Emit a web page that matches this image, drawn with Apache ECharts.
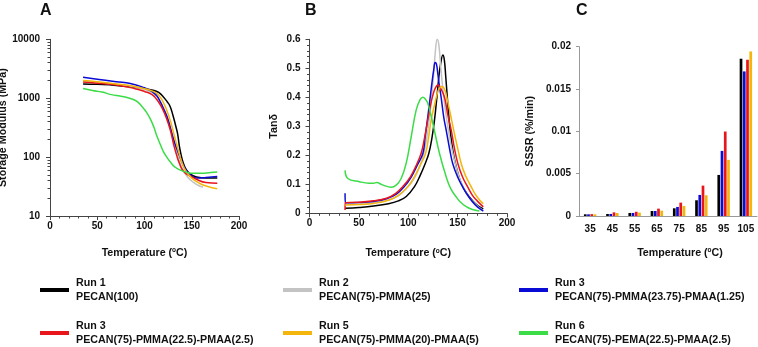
<!DOCTYPE html>
<html>
<head>
<meta charset="utf-8">
<script src="https://cdn.jsdelivr.net/npm/echarts@6/dist/echarts.min.js"></script>
<style>
html, body { margin: 0; padding: 0; background: #fff; }
#chart { width: 758px; height: 347px; }
</style>
</head>
<body>
<div id="chart"></div>
<script>
// run labels (legend) - two runs are both called "Run 3" in the source figure
const runNames = [
	'Run 1\nPECAN(100)',
	'Run 2\nPECAN(75)-PMMA(25)',
	'Run 3\nPECAN(75)-PMMA(23.75)-PMAA(1.25)',
	'Run 3\nPECAN(75)-PMMA(22.5)-PMAA(2.5)',
	'Run 5\nPECAN(75)-PMMA(20)-PMAA(5)',
	'Run 6\nPECAN(75)-PEMA(22.5)-PMAA(2.5)'
];

// A: storage modulus (MPa) vs temperature (C)
const modulusRun1 = [[35,1750],[50,1720],[70,1650],[90,1530],[100,1450],[110,1350],[115,1250],[120,1050],[124,870],[127,730],[130,520],[133,340],[135,250],[137,150],[139,105],[141,80],[144,62],[148,52],[155,46],[165,44],[177,44]];
const modulusRun2 = [[35,1950],[50,1850],[70,1720],[90,1550],[100,1400],[108,1250],[113,1080],[117,860],[121,620],[125,420],[128,290],[131,190],[134,125],[137,85],[141,60],[146,45],[152,37],[157,33],[162,31]];
const modulusRun3a = [[35,2260],[50,2100],[70,1900],[85,1780],[100,1500],[108,1300],[113,1100],[117,850],[121,620],[124,480],[127,330],[130,220],[134,141],[138,95],[142,68],[146,55],[150,48],[155,44],[165,45],[177,47]];
const modulusRun3b = [[35,1880],[50,1800],[70,1680],[90,1450],[100,1300],[108,1150],[113,950],[117,760],[121,560],[125,380],[128,260],[131,160],[134,108],[137,78],[141,58],[148,48],[155,42],[165,37],[177,36]];
const modulusRun5 = [[35,2000],[50,1900],[70,1750],[90,1580],[100,1450],[108,1330],[113,1200],[117,1020],[121,780],[125,540],[128,380],[131,250],[134,165],[137,110],[140,78],[144,57],[150,44],[158,36],[166,32],[177,29]];
const modulusRun6 = [[35,1460],[45,1350],[55,1270],[65,1150],[75,1080],[85,990],[92,880],[98,700],[102,580],[106,450],[110,320],[113,230],[117,160],[120,124],[124,98],[128,80],[132,68],[138,60],[145,55],[152,53],[160,53],[170,55],[177,56]];

// B: tan delta vs temperature (C)
const tanRun1 = [[36,0.017],[50,0.02],[65,0.025],[80,0.033],[90,0.043],[98,0.058],[106.3,0.092],[112,0.13],[117,0.17],[120.8,0.206],[124,0.26],[126.6,0.322],[129,0.4],[131,0.47],[133,0.52],[135,0.546],[136.5,0.53],[138,0.47],[140,0.38],[142,0.3],[145,0.22],[149,0.155],[154,0.1],[160,0.065],[166,0.04],[171,0.025],[176,0.015]];
const tanRun2 = [[36,0.03],[50,0.031],[65,0.036],[80,0.046],[90,0.06],[98,0.085],[106,0.12],[112,0.165],[116,0.21],[120,0.29],[123,0.38],[125.5,0.47],[127.5,0.56],[129.3,0.6],[131,0.58],[133,0.5],[135,0.43],[137,0.37],[140,0.3],[143,0.24],[147,0.18],[152,0.12],[158,0.075],[164,0.045],[170,0.025],[175,0.012]];
const tanRun3a = [[36,0.069],[36.3,0.036],[50,0.037],[65,0.041],[78,0.05],[88,0.066],[96,0.092],[103,0.125],[109,0.165],[114.8,0.206],[117,0.26],[119.4,0.322],[121.5,0.38],[124,0.45],[126,0.5],[127.2,0.52],[128.5,0.515],[130,0.48],[131.5,0.44],[133.3,0.4],[136,0.33],[138.4,0.287],[142,0.22],[145,0.172],[150,0.125],[155,0.092],[160,0.063],[165,0.04],[170,0.022],[176,0.008]];
const tanRun3b = [[36,0.011],[36.3,0.037],[50,0.038],[65,0.043],[78,0.052],[87,0.068],[94.5,0.092],[102,0.125],[108,0.165],[113,0.206],[116.5,0.26],[119.8,0.322],[123,0.38],[126,0.42],[128.5,0.438],[130.6,0.442],[133,0.43],[136.7,0.4],[140,0.34],[143.5,0.287],[147,0.22],[150.2,0.172],[155,0.125],[160,0.092],[165,0.062],[170,0.042],[176,0.022]];
const tanRun5 = [[36,0.029],[50,0.03],[65,0.034],[80,0.045],[90,0.062],[99.6,0.092],[106,0.125],[112,0.165],[117.5,0.206],[120.5,0.26],[123.2,0.322],[127,0.38],[130,0.42],[132,0.433],[134,0.437],[136.5,0.43],[139,0.4],[142.5,0.345],[146,0.287],[150,0.225],[153.6,0.172],[158,0.13],[163.7,0.092],[168,0.065],[172,0.047],[176,0.033]];
const tanRun6 = [[36,0.148],[38.8,0.12],[50.6,0.109],[60,0.104],[65,0.104],[68,0.106],[74,0.098],[82.7,0.09],[87.8,0.097],[92.8,0.12],[97.9,0.172],[103,0.264],[108,0.356],[112,0.392],[114.8,0.4],[117,0.395],[119.8,0.379],[124.9,0.31],[131.6,0.207],[138.4,0.126],[143,0.085],[148.5,0.057],[153,0.038],[158.7,0.023],[165,0.013],[172,0.008]];

// C: SSSR (%/min) per temperature step
const sssrTemps = ['35', '45', '55', '65', '75', '85', '95', '105'];
const sssrRun1 = [0.0002, 0.00024, 0.00036, 0.00059, 0.00091, 0.00186, 0.00485, 0.01858];
const sssrRun3a = [0.0002, 0.00024, 0.00036, 0.00059, 0.00107, 0.00249, 0.00769, 0.01708];
const sssrRun3b = [0.00022, 0.00043, 0.0005, 0.00087, 0.00158, 0.00359, 0.00998, 0.01846];
const sssrRun5 = [0.0002, 0.00035, 0.0004, 0.00063, 0.00118, 0.00245, 0.00663, 0.01944];

const runColors = ['#000000', '#c3c3c3', '#0b0bd6', '#e8161c', '#f4b60c', '#3cdc48'];
const modulusData = [modulusRun1, modulusRun2, modulusRun3a, modulusRun3b, modulusRun5, modulusRun6];
const tanData = [tanRun1, tanRun2, tanRun3a, tanRun3b, tanRun5, tanRun6];
const sssrData = [[0, sssrRun1], [2, sssrRun3a], [3, sssrRun3b], [4, sssrRun5]];

const FONT = '"Liberation Sans", Arial, sans-serif';
const labelStyle = { color: '#111', fontSize: 10, fontWeight: 'bold', fontFamily: FONT };
const titleStyle = { color: '#111', fontSize: 10.7, fontWeight: 'bold', fontFamily: FONT };
const tempName = 'Temperature ({sup|o}C)';
const tempNameStyle = {
	color: '#111', fontSize: 10.7, fontWeight: 'bold', fontFamily: FONT,
	rich: { sup: { fontSize: 6.5, fontWeight: 'bold', fontFamily: FONT, verticalAlign: 'top', padding: [0, 0, 5, 0] } }
};
const darkLine = { lineStyle: { color: '#444', width: 1 } };

let myChart = echarts.init(document.getElementById('chart'), null, { renderer: 'canvas' });

let series = [];
modulusData.forEach(function (d, i) {
	series.push({
		name: runNames[i], type: 'line', xAxisIndex: 0, yAxisIndex: 0,
		data: d, smooth: true, showSymbol: false, symbol: 'none',
		lineStyle: { color: runColors[i], width: 1.5 },
		itemStyle: { color: runColors[i] }
	});
});
tanData.forEach(function (d, i) {
	series.push({
		name: runNames[i], type: 'line', xAxisIndex: 1, yAxisIndex: 1,
		data: d, smooth: 0.4, showSymbol: false, symbol: 'none',
		lineStyle: { color: runColors[i], width: 1.5 },
		itemStyle: { color: runColors[i] }
	});
});
sssrData.forEach(function (d) {
	series.push({
		name: runNames[d[0]], type: 'bar', xAxisIndex: 2, yAxisIndex: 2,
		data: d[1], barWidth: 2.7, barGap: '20%',
		itemStyle: { color: runColors[d[0]] }
	});
});

function legendCol(left, names) {
	return {
		orient: 'vertical', left: left, top: 276, height: 90, padding: 0, itemGap: 15,
		itemWidth: 29, itemHeight: 4, icon: 'rect',
		data: names, selectedMode: false,
		textStyle: { color: '#111', fontSize: 10.7, fontWeight: 'bold', fontFamily: FONT, lineHeight: 14, padding: [0, 0, 0, 2] }
	};
}

let option = {
	animation: false,
	backgroundColor: '#fff',
	textStyle: { fontFamily: FONT },
	grid: [
		{ left: 50, top: 39.3, width: 189, height: 176.7, outerBoundsMode: 'none' },
		{ left: 309.5, top: 39.3, width: 197.5, height: 174, outerBoundsMode: 'none' },
		{ left: 579, top: 46.7, width: 178, height: 169.3, outerBoundsMode: 'none' }
	],
	legend: [
		legendCol(40, [runNames[0], runNames[3]]),
		legendCol(283, [runNames[1], runNames[4]]),
		legendCol(519, [runNames[2], runNames[5]])
	],
	graphic: [
		{ type: 'text', left: 40, top: 3, style: { text: 'A', fontSize: 16, fontWeight: 'bold', fontFamily: FONT, fill: '#111' } },
		{ type: 'text', left: 305, top: 3, style: { text: 'B', fontSize: 16, fontWeight: 'bold', fontFamily: FONT, fill: '#111' } },
		{ type: 'text', left: 576, top: 3, style: { text: 'C', fontSize: 16, fontWeight: 'bold', fontFamily: FONT, fill: '#111' } }
	],
	xAxis: [
		{
			gridIndex: 0, type: 'value', min: 0, max: 200, interval: 50,
			name: tempName, nameLocation: 'middle', nameGap: 31, nameTextStyle: tempNameStyle,
			axisLine: darkLine, axisTick: { length: 4, lineStyle: { color: '#444' } },
			minorTick: { show: true, splitNumber: 5, length: 2.5, lineStyle: { color: '#444' } },
			splitLine: { show: false }, axisLabel: Object.assign({ margin: 5 }, labelStyle)
		},
		{
			gridIndex: 1, type: 'value', min: 0, max: 200, interval: 50,
			name: tempName, nameLocation: 'middle', nameGap: 34, nameTextStyle: tempNameStyle,
			axisLine: darkLine, axisTick: { length: 4, lineStyle: { color: '#444' } },
			minorTick: { show: true, splitNumber: 5, length: 2.5, lineStyle: { color: '#444' } },
			splitLine: { show: false }, axisLabel: Object.assign({ margin: 5 }, labelStyle)
		},
		{
			gridIndex: 2, type: 'category', data: sssrTemps,
			name: tempName, nameLocation: 'middle', nameGap: 31,
			nameTextStyle: Object.assign({ padding: [0, 0, 0, 24] }, tempNameStyle),
			axisLine: { lineStyle: { color: '#999', width: 1 } },
			axisTick: { length: 4, lineStyle: { color: '#777' } },
			splitLine: { show: false }, axisLabel: Object.assign({ margin: 8 }, labelStyle)
		}
	],
	yAxis: [
		{
			gridIndex: 0, type: 'log', logBase: 10, min: 10, max: 10000,
			name: 'Storage Modulus (MPa)', nameLocation: 'middle', nameGap: 35.5,
			nameTextStyle: titleStyle,
			axisLine: { show: true, lineStyle: { color: '#444', width: 1 } },
			axisTick: { show: true, length: 4, lineStyle: { color: '#444' } },
			minorTick: { show: true, splitNumber: 9, length: 2.5, lineStyle: { color: '#444' } },
			splitLine: { show: false },
			axisLabel: Object.assign({ margin: 10, formatter: function (v) { return String(v); } }, labelStyle)
		},
		{
			gridIndex: 1, type: 'value', min: 0, max: 0.6, interval: 0.1,
			name: 'Tanδ', nameLocation: 'middle', nameGap: 30,
			nameTextStyle: titleStyle,
			axisLine: { show: true, lineStyle: { color: '#444', width: 1 } },
			axisTick: { show: true, length: 4, lineStyle: { color: '#444' } },
			minorTick: { show: true, splitNumber: 5, length: 2.5, lineStyle: { color: '#444' } },
			splitLine: { show: false },
			axisLabel: Object.assign({ margin: 9, formatter: function (v) { return String(Math.round(v * 10) / 10); } }, labelStyle)
		},
		{
			gridIndex: 2, type: 'value', min: 0, max: 0.02, interval: 0.005,
			name: 'SSSR (%/min)', nameLocation: 'middle', nameGap: 43,
			nameTextStyle: titleStyle,
			axisLine: { show: true, lineStyle: { color: '#999', width: 1 } },
			axisTick: { show: true, length: 3, lineStyle: { color: '#999' } },
			splitLine: { show: false },
			axisLabel: Object.assign({ margin: 8, formatter: function (v) { return String(Math.round(v * 1000) / 1000); } }, labelStyle)
		}
	],
	series: series
};
myChart.setOption(option);
window.addEventListener('resize', function () {
	myChart.resize();
});
</script>
</body>
</html>
